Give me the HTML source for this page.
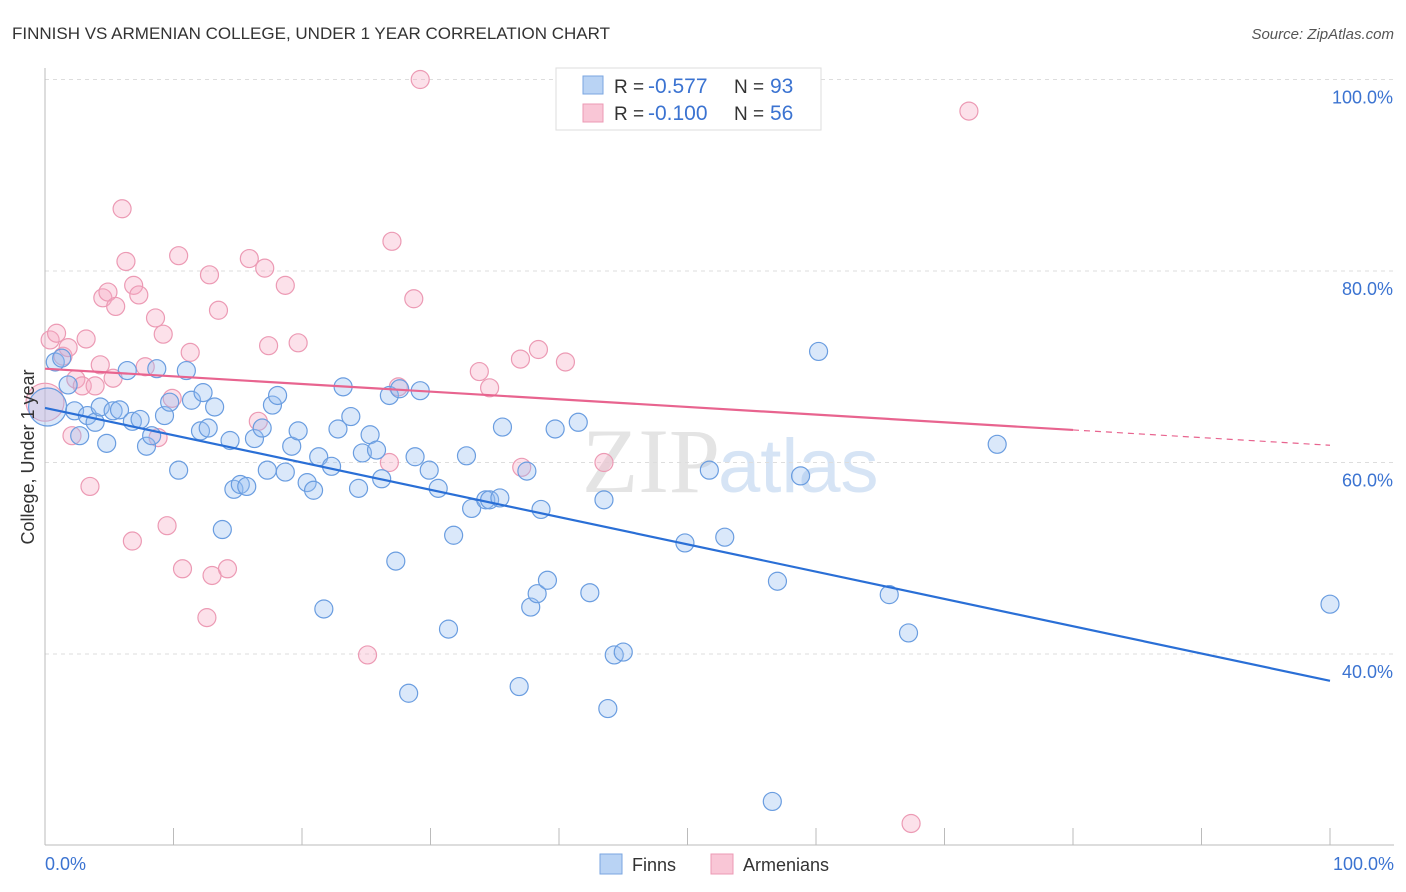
<!DOCTYPE html>
<html><head><meta charset="utf-8"><style>
body{margin:0;background:#fff;font-family:"Liberation Sans",sans-serif;}
svg{display:block}
</style></head><body>
<svg id="chart" width="1406" height="892">
<text x="12" y="39" font-size="17" fill="#333">FINNISH VS ARMENIAN COLLEGE, UNDER 1 YEAR CORRELATION CHART</text>
<text x="1394" y="39" font-size="15" fill="#555" font-style="italic" text-anchor="end">Source: ZipAtlas.com</text>
<text x="720" y="492" font-size="92" fill="#e4e4e4" text-anchor="end" font-family="Liberation Serif,serif">ZIP</text>
<text x="718" y="492" font-size="76" fill="#d6e4f5">atlas</text>
<g id="grid"></g><g id="axes"></g><g id="pink"></g><g id="blue"></g><g id="trend"></g>
<text transform="translate(34,457) rotate(-90)" font-size="18" fill="#333" text-anchor="middle">College, Under 1 year</text>
<text x="45" y="870" font-size="18" fill="#3b73d1">0.0%</text>
<text x="1394" y="870" font-size="18" fill="#3b73d1" text-anchor="end">100.0%</text>
<g>
<rect x="556" y="68" width="265" height="62" fill="#fff" stroke="#ddd"/>
<rect x="583" y="76" width="20" height="18" fill="#b9d3f4" stroke="#7aa6e0"/>
<rect x="583" y="104" width="20" height="18" fill="#f9c6d6" stroke="#ec9ab4"/>
<text x="614" y="93" font-size="19" fill="#333">R =</text>
<text x="648" y="93" font-size="21" fill="#3b73d1">-0.577</text>
<text x="734" y="93" font-size="19" fill="#333">N =</text>
<text x="770" y="93" font-size="21" fill="#3b73d1">93</text>
<text x="614" y="120" font-size="19" fill="#333">R =</text>
<text x="648" y="120" font-size="21" fill="#3b73d1">-0.100</text>
<text x="734" y="120" font-size="19" fill="#333">N =</text>
<text x="770" y="120" font-size="21" fill="#3b73d1">56</text>
</g>
<g>
<rect x="600" y="854" width="22" height="20" fill="#b9d3f4" stroke="#7aa6e0"/>
<text x="632" y="871" font-size="18" fill="#333">Finns</text>
<rect x="711" y="854" width="22" height="20" fill="#f9c6d6" stroke="#ec9ab4"/>
<text x="743" y="871" font-size="18" fill="#333">Armenians</text>
</g>
</svg>
<script>
const blueX=[0.8,1.3,1.8,2.3,2.7,3.3,3.9,4.3,4.8,5.3,5.8,6.4,6.8,7.4,7.9,8.3,8.7,9.3,9.7,10.4,11,11.4,12.1,12.3,12.7,13.2,13.8,14.4,14.7,15.2,15.7,16.3,16.9,17.3,17.7,18.1,18.7,19.2,19.7,20.4,20.9,21.3,21.7,22.3,22.8,23.2,23.8,24.4,24.7,25.3,25.8,26.2,26.8,27.3,27.6,28.3,28.8,29.2,29.9,30.6,31.4,31.8,32.8,33.2,34.3,34.6,35.4,35.6,36.9,37.5,37.8,38.3,38.6,39.1,39.7,41.5,42.4,43.5,43.8,44.3,45,49.8,51.7,52.9,56.6,57,58.8,60.2,65.7,67.2,74.1,100,0.2];
const blueY=[70.5,70.9,68.1,65.4,62.8,64.9,64.2,65.8,62,65.4,65.5,69.6,64.3,64.5,61.7,62.8,69.8,64.9,66.3,59.2,69.6,66.5,63.3,67.3,63.6,65.8,53,62.3,57.2,57.7,57.5,62.5,63.6,59.2,66,67,59,61.7,63.3,57.9,57.1,60.6,44.7,59.6,63.5,67.9,64.8,57.3,61,62.9,61.3,58.3,67,49.7,67.7,35.9,60.6,67.5,59.2,57.3,42.6,52.4,60.7,55.2,56.1,56.1,56.3,63.7,36.6,59.1,44.9,46.3,55.1,47.7,63.5,64.2,46.4,56.1,34.3,39.9,40.2,51.6,59.2,52.2,24.6,47.6,58.6,71.6,46.2,42.2,61.9,45.2,65.8];
const pinkX=[0,0.4,0.9,1.4,1.8,2.1,2.4,2.9,3.2,3.5,3.9,4.3,4.5,4.9,5.3,5.5,6,6.3,6.8,6.9,7.3,7.8,8.6,8.8,9.2,9.5,9.9,10.4,10.7,11.3,12.6,12.8,13,13.5,14.2,15.9,16.6,17.1,17.4,18.7,19.7,25.1,26.8,27,27.5,28.7,29.2,33.8,34.6,37,37.1,38.4,40.5,43.5,67.4,71.9];
const pinkY=[66.3,72.8,73.5,71.1,72,62.8,68.7,68,72.9,57.5,68,70.2,77.2,77.8,68.8,76.3,86.5,81,51.8,78.5,77.5,70,75.1,62.6,73.4,53.4,66.7,81.6,48.9,71.5,43.8,79.6,48.2,75.9,48.9,81.3,64.3,80.3,72.2,78.5,72.5,39.9,60,83.1,67.9,77.1,100,69.5,67.8,70.8,59.5,71.8,70.5,60,22.3,96.7];
const blueTrend=[65.7,37.2];
const pinkTrend=[69.8,61.8];
const xTicks=[0,10,20,30,40,50,60,70,80,90,100];
const yTicks=[100,80,60,40];
const NS='http://www.w3.org/2000/svg';
const X=v=>45+v*12.85, Y=v=>79.5+(100-v)*9.575;
function mk(t,a,p){const e=document.createElementNS(NS,t);for(const k in a)e.setAttribute(k,a[k]);p.appendChild(e);return e;}
const grid=document.getElementById('grid'),axes=document.getElementById('axes');
yTicks.forEach(v=>{
 const l=mk('line',{x1:45,x2:1394,y1:Y(v),y2:Y(v),stroke:'#ddd','stroke-dasharray':'4,4'},grid);
 
 
 const t=mk('text',{x:1393,y:Y(v)+24,'font-size':18,fill:'#3b73d1','text-anchor':'end'},grid);
 t.textContent=v.toFixed(1)+'%';
 
 
});
mk('line',{x1:45,x2:45,y1:68,y2:845,stroke:'#bbb'},axes);
mk('line',{x1:45,x2:1394,y1:845,y2:845,stroke:'#bbb'},axes);
xTicks.forEach(v=>{const l=mk('line',{x1:X(v),x2:X(v),y1:828,y2:845,stroke:'#bbb'},axes);
 
 });
function pts(xs,ys,g,fill,stroke,name,bigIdx){
 xs.forEach((x,i)=>{const r=(i===bigIdx)?19:9;
  const c=mk('circle',{cx:X(x),cy:Y(ys[i]),r:r,fill:fill,stroke:stroke,'stroke-width':1.2},document.getElementById(g));
  
  });
}
pts(pinkX,pinkY,'pink','rgba(246,170,196,0.35)','#ec9ab4','armenian-point',0);
pts(blueX,blueY,'blue','rgba(150,190,240,0.35)','#6a9de0','finn-point',blueX.length-1);
const tr=document.getElementById('trend');
const bl=mk('line',{x1:X(0),y1:Y(blueTrend[0]),x2:X(100),y2:Y(blueTrend[1]),stroke:'#2a6fd6','stroke-width':2.2},tr);


const py=v=>pinkTrend[0]+(pinkTrend[1]-pinkTrend[0])*v/100;
const pl=mk('line',{x1:X(0),y1:Y(py(0)),x2:X(80),y2:Y(py(80)),stroke:'#e8648f','stroke-width':2.2},tr);


const pd=mk('line',{x1:X(80),y1:Y(py(80)),x2:X(100),y2:Y(py(100)),stroke:'#e8648f','stroke-width':1.2,'stroke-dasharray':'6,5'},tr);


</script>
</body></html>
